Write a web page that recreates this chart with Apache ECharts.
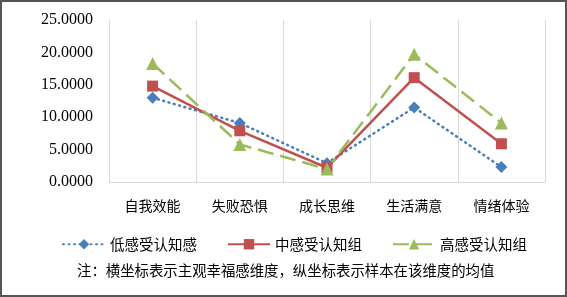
<!DOCTYPE html>
<html>
<head>
<meta charset="utf-8">
<script src="https://cdn.jsdelivr.net/npm/echarts@6/dist/echarts.min.js"></script>
<style>
html, body { margin: 0; padding: 0; background: #fff; }
#chart { width: 567px; height: 297px; box-sizing: border-box; border: 2px solid #555; }
</style>
</head>
<body>
<div id="chart"></div>
<script>
var categories = ['自我效能', '失败恐惧', '成长思维', '生活满意', '情绪体验'];
var lowGroup = [13.0, 9.1, 2.9, 11.5, 2.3];
var midGroup = [14.8, 7.9, 2.2, 16.1, 5.9];
var highGroup = [18.3, 5.8, 2.0, 19.7, 9.1];
var seriesNames = ['低感受认知感', '中感受认知组', '高感受认知组'];
var note = '注：横坐标表示主观幸福感维度，纵坐标表示样本在该维度的均值';

var myChart = echarts.init(document.getElementById('chart'));

var cjk = '"Noto Sans CJK SC", sans-serif';

var option = {
    animation: false,
    grid: { left: 107, right: 20, top: 18, bottom: 113 },
    legend: {
        top: 230,
        left: 55,
        itemGap: 30,
        itemWidth: 42,
        itemHeight: 13,
        textStyle: { fontFamily: cjk, fontSize: 14.5, color: '#000' },
        data: seriesNames
    },
    graphic: [{
        type: 'text',
        left: 75,
        top: 261,
        style: { text: note, font: '14.4px ' + cjk, fill: '#000' }
    }],
    xAxis: {
        type: 'category',
        data: categories,
        axisLine: { lineStyle: { color: '#d9d9d9', width: 1 } },
        axisTick: { show: false },
        splitLine: { show: true, lineStyle: { color: '#d9d9d9', width: 1 } },
        axisLabel: { fontFamily: cjk, fontSize: 14, color: '#000', margin: 17 }
    },
    yAxis: {
        type: 'value',
        min: 0, max: 25, interval: 5,
        axisLine: { show: false },
        axisTick: { show: false },
        splitLine: { show: false },
        axisLabel: {
            fontFamily: '"Liberation Serif", serif', fontSize: 16, color: '#000', margin: 16,
            formatter: function (v) { return v.toFixed(4); }
        }
    },
    series: [{
        name: seriesNames[0],
        type: 'line',
        data: lowGroup,
        symbol: 'diamond',
        symbolSize: 12,
        itemStyle: { color: '#4a7ebb' },
        lineStyle: { width: 2.5, type: [1, 4.5], cap: 'round', color: '#4a7ebb' }
    }, {
        name: seriesNames[1],
        type: 'line',
        data: midGroup,
        symbol: 'rect',
        symbolSize: 11,
        itemStyle: { color: '#c0504d' },
        lineStyle: { width: 2.5, color: '#c0504d' }
    }, {
        name: seriesNames[2],
        type: 'line',
        data: highGroup,
        symbol: 'triangle',
        symbolSize: 13,
        itemStyle: { color: '#9bbb59' },
        lineStyle: { width: 2.5, type: [16, 7], color: '#9bbb59' }
    }]
};

myChart.setOption(option);
</script>
</body>
</html>
